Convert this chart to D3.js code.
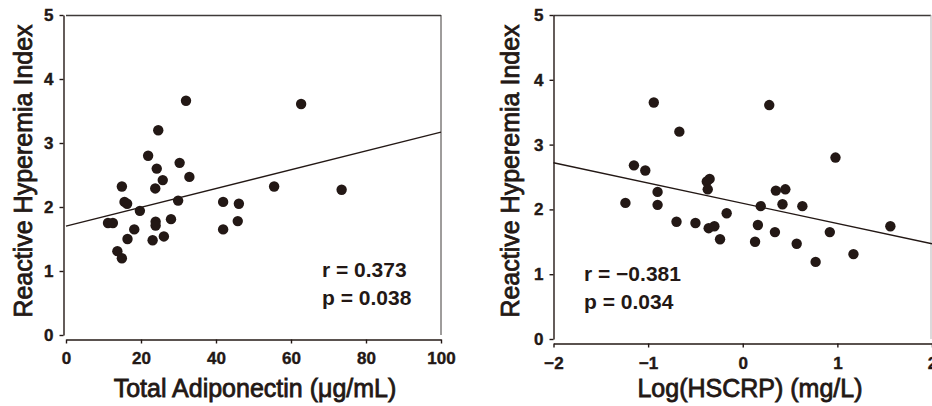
<!DOCTYPE html>
<html>
<head>
<meta charset="utf-8">
<script src="https://cdn.jsdelivr.net/npm/d3@7"></script>
<style>
  body { margin: 0; background: #fff; }
  svg { display: block; font-family: "Liberation Sans", Arial, sans-serif; }
</style>
</head>
<body>
<div id="chart"></div>
<script>
// left panel: total adiponectin vs RHI
var adiponectin = [32.0, 62.7, 24.6, 21.9, 30.3, 24.2, 32.9, 25.8, 14.9, 23.8, 55.5, 73.5,
  15.6, 16.3, 29.9, 19.7, 41.9, 46.1, 45.8, 41.9, 28.0, 23.9, 23.9, 18.2, 11.2, 12.5,
  16.4, 23.1, 26.1, 13.7, 14.9];
var rhiLeft = [3.66, 3.61, 3.20, 2.80, 2.69, 2.60, 2.47, 2.42, 2.32, 2.29, 2.32, 2.27,
  2.08, 2.05, 2.10, 1.94, 2.08, 2.05, 1.78, 1.65, 1.81, 1.77, 1.71, 1.65, 1.75, 1.75,
  1.50, 1.48, 1.54, 1.31, 1.20];

// right panel: log(hsCRP) vs RHI
var logCrp = [-0.94, 0.28, -0.67, 0.98, -1.15, -1.03, -0.35, -0.38, -0.37, -0.90, 0.35, 0.45,
  -1.24, -0.90, 0.19, 0.42, 0.63, -0.17, -0.70, -0.50, -0.36, -0.30, 0.16, -0.24, 0.13,
  0.34, 0.57, 0.92, 1.56, 0.77, 1.17];
var rhiRight = [3.65, 3.61, 3.20, 2.80, 2.68, 2.60, 2.47, 2.43, 2.31, 2.27, 2.29, 2.31,
  2.10, 2.07, 2.05, 2.08, 2.05, 1.94, 1.81, 1.79, 1.71, 1.74, 1.76, 1.54, 1.50,
  1.65, 1.47, 1.65, 1.74, 1.19, 1.31];

// regression line ends
var fitLeft = [[0, 1.70], [100, 3.17]];
var fitRight = [[-2, 2.72], [2, 1.47]];

var yTicks = [0, 1, 2, 3, 4, 5];
var xTicksLeft = [0, 20, 40, 60, 80, 100];
var xTicksRight = [-2, -1, 0, 1, 2];

var statsLeft = ["r = 0.373", "p = 0.038"];
var statsRight = ["r = \u22120.381", "p = 0.034"];

var ink = "#231815";

var svg = d3.select("#chart")
  .append("svg")
  .attr("width", 932)
  .attr("height", 406);

function fmt(d) { return d < 0 ? "\u2212" + Math.abs(d) : String(d); }

function panel(opt) {
  var g = svg.append("g");
  var x = d3.scaleLinear().domain(opt.xDomain).range(opt.xRange);
  var y = d3.scaleLinear().domain([0, 5]).range(opt.yRange);

  // frame top and right
  g.append("line")
    .attr("x1", opt.xRange[0]).attr("x2", opt.frameRight)
    .attr("y1", opt.yRange[1] + 0.5).attr("y2", opt.yRange[1] + 0.5)
    .attr("stroke", "#3e3a39").attr("stroke-width", 1.3);
  g.append("line")
    .attr("x1", opt.frameRight).attr("x2", opt.frameRight)
    .attr("y1", opt.yRange[1]).attr("y2", opt.yRange[0])
    .attr("stroke", opt.frameColor).attr("stroke-width", 1);

  // axes
  var yAx = g.append("g")
    .attr("transform", "translate(" + opt.yAxisX + ",0)")
    .call(d3.axisLeft(y).tickValues(yTicks).tickFormat(fmt).tickSize(4).tickSizeOuter(0).tickPadding(6));
  var xAx = g.append("g")
    .attr("transform", "translate(0," + opt.xAxisY + ")")
    .call(d3.axisBottom(x).tickValues(opt.xTicks).tickFormat(fmt).tickSize(4).tickSizeOuter(0).tickPadding(opt.xPad));
  [yAx, xAx].forEach(function (a) {
    a.attr("font-size", null).attr("font-family", null);
    a.selectAll("path, line").attr("stroke", ink).attr("stroke-width", 1.4);
    a.selectAll("text")
      .attr("fill", ink)
      .attr("stroke", ink).attr("stroke-width", 0.4)
      .style("font-size", "17px")
      .style("font-weight", "bold");
  });

  // fit line
  g.append("line")
    .attr("x1", x(opt.fit[0][0])).attr("y1", y(opt.fit[0][1]))
    .attr("x2", x(opt.fit[1][0])).attr("y2", y(opt.fit[1][1]))
    .attr("stroke", ink).attr("stroke-width", 1.3);

  // points
  g.selectAll("circle")
    .data(opt.xs.map(function (v, i) { return [v, opt.ys[i]]; }))
    .enter()
    .append("circle")
    .attr("cx", function (d) { return x(d[0]); })
    .attr("cy", function (d) { return y(d[1]); })
    .attr("r", 5.2)
    .attr("fill", ink);

  // stats
  g.selectAll(".stat")
    .data(opt.stats)
    .enter()
    .append("text")
    .attr("class", "stat")
    .attr("x", opt.statX)
    .attr("y", function (d, i) { return opt.statY + i * 28; })
    .attr("fill", ink)
    .style("font-size", "21px")
    .style("font-weight", "bold")
    .text(function (d) { return d; });

  // titles
  g.append("text")
    .attr("transform", "translate(" + opt.yTitleX + "," + 171 + ") rotate(-90)")
    .attr("text-anchor", "middle")
    .attr("fill", ink)
    .attr("stroke", ink).attr("stroke-width", 0.8)
    .style("font-size", "25px")
    .text("Reactive Hyperemia Index");
  g.append("text")
    .attr("x", opt.xTitleX)
    .attr("y", 397)
    .attr("text-anchor", "middle")
    .attr("fill", ink)
    .attr("stroke", ink).attr("stroke-width", 0.8)
    .style("font-size", "25px")
    .text(opt.xTitle);
}

panel({
  xs: adiponectin, ys: rhiLeft, fit: fitLeft, stats: statsLeft,
  xDomain: [0, 100], xRange: [66, 441], yRange: [335, 15],
  xTicks: xTicksLeft, yAxisX: 63.5, xAxisY: 339.5, xPad: 8,
  frameRight: 441, frameColor: "#3e3a39",
  statX: 322, statY: 277, yTitleX: 32, xTitleX: 255,
  xTitle: "Total Adiponectin (\u03bcg/mL)"
});

panel({
  xs: logCrp, ys: rhiRight, fit: fitRight, stats: statsRight,
  xDomain: [-2, 2], xRange: [553.5, 932], yRange: [339, 15],
  xTicks: xTicksRight, yAxisX: 553.5, xAxisY: 343.5, xPad: 9,
  frameRight: 931, frameColor: "#b5b5b6",
  statX: 584, statY: 281, yTitleX: 519, xTitleX: 750,
  xTitle: "Log(HSCRP) (mg/L)"
});
</script>
</body>
</html>
